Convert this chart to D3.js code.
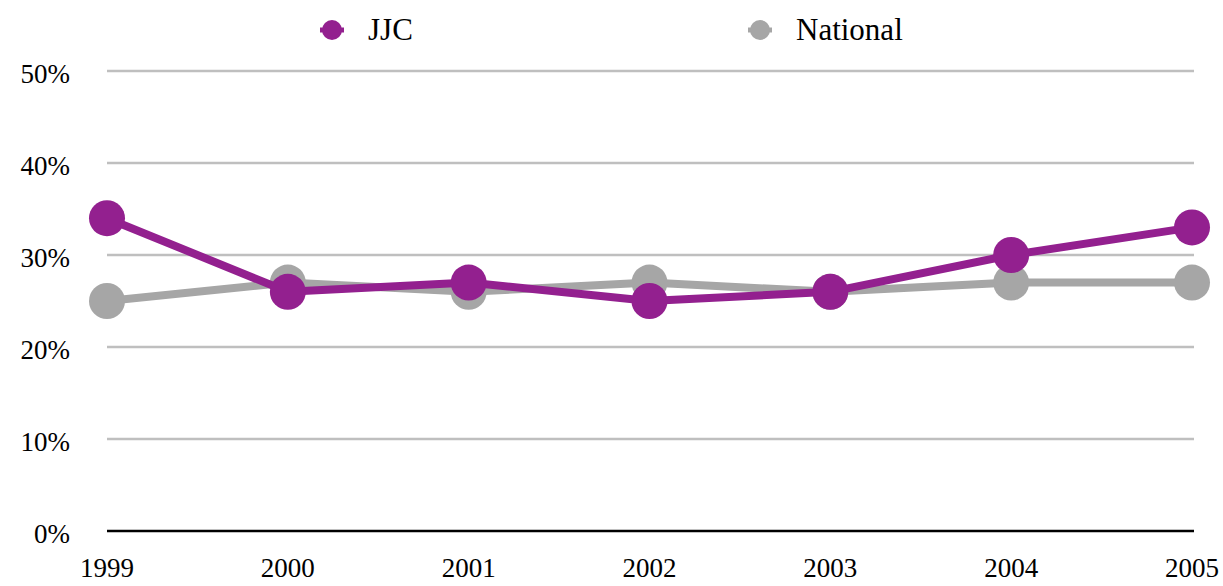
<!DOCTYPE html>
<html>
<head>
<meta charset="utf-8">
<script src="https://cdn.jsdelivr.net/npm/d3@7"></script>
<style>
  body { margin: 0; background: #fff; }
  text { font-family: "Liberation Serif", "DejaVu Serif", serif; }
</style>
</head>
<body>
<div class="chart"></div>
<script>
const years = ['1999', '2000', '2001', '2002', '2003', '2004', '2005'];
const jjc = [34, 26, 27, 25, 26, 30, 33];
const national = [25, 27, 26, 27, 26, 27, 27];
const yTicks = [0, 10, 20, 30, 40, 50];

const w = 1223;
const h = 586;
const svg = d3.select('.chart')
    .append('svg')
    .attr('width', w)
    .attr('height', h);

const x = d3.scalePoint().domain(years).range([107, 1192]);
const y = d3.scaleLinear().domain([0, 50]).range([531, 71]);

// gridlines
svg.selectAll('line.grid')
    .data(yTicks.filter(d => d > 0))
    .enter()
    .append('line')
    .attr('class', 'grid')
    .attr('x1', 107)
    .attr('x2', 1194)
    .attr('y1', d => y(d))
    .attr('y2', d => y(d))
    .attr('stroke', '#bfbfbf')
    .attr('stroke-width', 2.5);

svg.append('line')
    .attr('x1', 107)
    .attr('x2', 1194)
    .attr('y1', y(0))
    .attr('y2', y(0))
    .attr('stroke', '#000')
    .attr('stroke-width', 2.5);

svg.selectAll('text.ytick')
    .data(yTicks)
    .enter()
    .append('text')
    .attr('class', 'ytick')
    .attr('x', 70)
    .attr('y', d => y(d))
    .attr('dy', 12)
    .attr('text-anchor', 'end')
    .attr('font-size', 27)
    .text(d => d + '%');

svg.selectAll('text.xtick')
    .data(years)
    .enter()
    .append('text')
    .attr('class', 'xtick')
    .attr('x', d => x(d))
    .attr('y', 577)
    .attr('text-anchor', 'middle')
    .attr('font-size', 27)
    .text(d => d);

const line = d3.line()
    .x((d, i) => x(years[i]))
    .y(d => y(d));

function drawSeries(data, color) {
  svg.append('path')
      .datum(data)
      .attr('d', line)
      .attr('fill', 'none')
      .attr('stroke', color)
      .attr('stroke-width', 8)
      .attr('stroke-linejoin', 'round');
  svg.append('g')
      .selectAll('circle')
      .data(data)
      .enter()
      .append('circle')
      .attr('cx', (d, i) => x(years[i]))
      .attr('cy', d => y(d))
      .attr('r', 18)
      .attr('fill', color);
}

drawSeries(national, '#a6a6a6');
drawSeries(jjc, '#93208f');

// legend
const legend = [
  { name: 'JJC', color: '#93208f', x: 332 },
  { name: 'National', color: '#a6a6a6', x: 760 }
];
const lg = svg.selectAll('g.legend')
    .data(legend)
    .enter()
    .append('g')
    .attr('class', 'legend')
    .attr('transform', d => `translate(${d.x},30)`);
lg.append('line')
    .attr('x1', -12).attr('x2', 12)
    .attr('stroke', d => d.color)
    .attr('stroke-width', 5);
lg.append('circle')
    .attr('r', 10)
    .attr('fill', d => d.color);
lg.append('text')
    .attr('x', 36)
    .attr('dy', 10)
    .attr('font-size', 31)
    .text(d => d.name);
</script>
</body>
</html>
